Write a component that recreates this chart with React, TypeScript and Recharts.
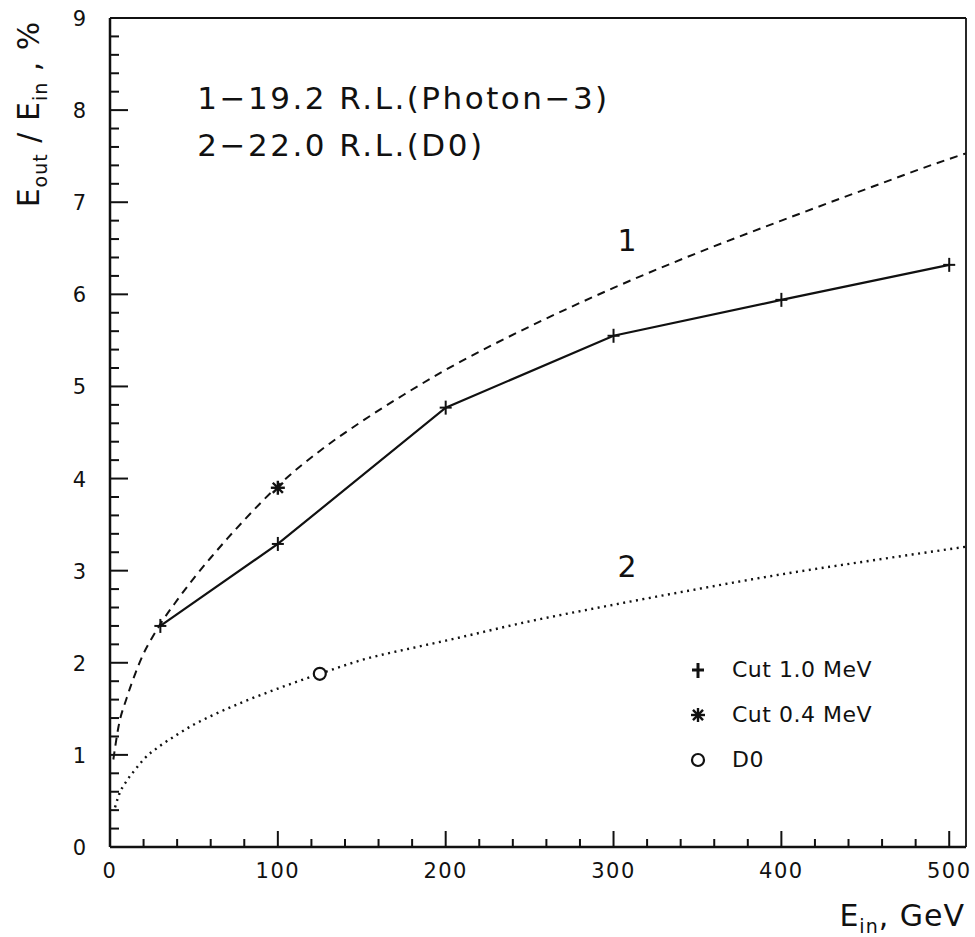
import React from 'react';
import { ComposedChart, Line, Scatter, XAxis, YAxis, ReferenceDot, ReferenceLine, Legend } from 'recharts';

// ---- data ----
const xTicks = [0, 20, 40, 60, 80, 100, 120, 140, 160, 180, 200, 220, 240, 260, 280, 300, 320, 340, 360, 380, 400, 420, 440, 460, 480, 500];
const yTicks = [0, 0.2, 0.4, 0.6, 0.8, 1, 1.2, 1.4, 1.6, 1.8, 2, 2.2, 2.4, 2.6, 2.8, 3, 3.2, 3.4, 3.6, 3.8, 4, 4.2, 4.4, 4.6, 4.8, 5, 5.2, 5.4, 5.6, 5.8, 6, 6.2, 6.4, 6.6, 6.8, 7, 7.2, 7.4, 7.6, 7.8, 8, 8.2, 8.4, 8.6, 8.8, 9];
const xMajor = [0, 100, 200, 300, 400, 500];
const yMajor = [0, 1, 2, 3, 4, 5, 6, 7, 8, 9];

// curve 1: 19.2 R.L. (Photon-3), dashed
const curve1X = [2, 5, 10, 15, 20, 25, 30, 40, 50, 60, 70, 80, 90, 100, 125, 150, 175, 200, 250, 300, 350, 400, 450, 500, 510];
const curve1Y = [0.95, 1.3, 1.62, 1.88, 2.1, 2.27, 2.42, 2.68, 2.92, 3.14, 3.35, 3.55, 3.74, 3.92, 4.3, 4.62, 4.91, 5.18, 5.65, 6.07, 6.45, 6.8, 7.14, 7.47, 7.53];
// curve 2: 22.0 R.L. (D0), dotted
const curve2X = [3, 5, 10, 15, 20, 30, 40, 50, 60, 80, 100, 125, 150, 185, 200, 250, 300, 350, 400, 450, 510];
const curve2Y = [0.43, 0.55, 0.72, 0.84, 0.95, 1.1, 1.22, 1.33, 1.42, 1.58, 1.72, 1.88, 2.03, 2.18, 2.24, 2.45, 2.63, 2.8, 2.96, 3.1, 3.26];
// measured points
const cut10X = [30, 100, 200, 300, 400, 500];
const cut10Y = [2.4, 3.29, 4.77, 5.55, 5.94, 6.32];
const cut04X = [100];
const cut04Y = [3.9];
const d0X = [125];
const d0Y = [1.88];

const legendLabels = ['Cut 1.0 MeV', 'Cut 0.4 MeV', 'D0'];
const noteLines = ['1\u221219.2 R.L.(Photon\u22123)', '2\u221222.0 R.L.(D0)'];
const curveLabels = ['1', '2'];

const zip = (xs: number[], ys: number[]) => xs.map((x, i) => ({ x, y: ys[i] }));
const curve1 = zip(curve1X, curve1Y);
const curve2 = zip(curve2X, curve2Y);
const cut10 = zip(cut10X, cut10Y);
const cut04 = zip(cut04X, cut04Y);
const d0 = zip(d0X, d0Y);

const FONT = '"DejaVu Sans", "Liberation Sans", sans-serif';
const INK = '#111';

const XTick = (props: any) => {
  const { x, y, payload } = props;
  const v = payload.value;
  const major = xMajor.includes(v);
  return (
    <g>
      <line x1={x} y1={y} x2={x} y2={y - (major ? 16 : 8)} stroke={INK} strokeWidth={2} />
      {major && (
        <text x={x} y={y + 31} textAnchor="middle" fontFamily={FONT} fontSize={21} letterSpacing={1.5} fill={INK}>
          {v}
        </text>
      )}
    </g>
  );
};

const YTick = (props: any) => {
  const { x, y, payload } = props;
  const v = payload.value;
  const major = yMajor.some((m) => Math.abs(m - v) < 1e-6);
  return (
    <g>
      <line x1={x} y1={y} x2={x + (major ? 18 : 9)} y2={y} stroke={INK} strokeWidth={2} />
      {major && (
        <text x={x - 24} y={y + 8} textAnchor="end" fontFamily={FONT} fontSize={21} fill={INK}>
          {Math.round(v)}
        </text>
      )}
    </g>
  );
};

const PlusMark = (props: any) => {
  const { cx, cy } = props;
  if (cx == null || cy == null) return <g />;
  return (
    <g>
      <line x1={cx - 6} y1={cy} x2={cx + 6} y2={cy} stroke={INK} strokeWidth={2} />
      <line x1={cx} y1={cy - 7} x2={cx} y2={cy + 7} stroke={INK} strokeWidth={2} />
    </g>
  );
};

const StarMark = (props: any) => {
  const { cx, cy } = props;
  const r = 7;
  const d = r * 0.72;
  return (
    <g stroke={INK} strokeWidth={2.4}>
      <line x1={cx - r} y1={cy} x2={cx + r} y2={cy} />
      <line x1={cx} y1={cy - r} x2={cx} y2={cy + r} />
      <line x1={cx - d} y1={cy - d} x2={cx + d} y2={cy + d} />
      <line x1={cx - d} y1={cy + d} x2={cx + d} y2={cy - d} />
    </g>
  );
};

const CircleMark = (props: any) => {
  const { cx, cy } = props;
  return <circle cx={cx} cy={cy} r={6} fill="#fff" stroke={INK} strokeWidth={2.2} />;
};

const YLabel = () => (
  <text transform="translate(39,114) rotate(-90)" textAnchor="middle" fontFamily={FONT} fontSize={30} letterSpacing={1} fill={INK}>
    E<tspan fontSize={19} dy={8}>out</tspan>
    <tspan dy={-8}> / E</tspan>
    <tspan fontSize={19} dy={8}>in</tspan>
    <tspan dy={-8}> , %</tspan>
  </text>
);

const XLabel = () => (
  <text x={965} y={926} textAnchor="end" fontFamily={FONT} fontSize={30} letterSpacing={1} fill={INK}>
    E<tspan fontSize={19} dy={7}>in</tspan>
    <tspan dy={-7}>, GeV</tspan>
  </text>
);

const textAt = (value: string, size: number, spacing: number, anchor: string) => (props: any) => {
  const vb = props.viewBox || {};
  const x = vb.x + (vb.width || 0) / 2;
  const y = vb.y + (vb.height || 0) / 2;
  return (
    <text x={x} y={y} textAnchor={anchor} fontFamily={FONT} fontSize={size} letterSpacing={spacing} fill={INK}>
      {value}
    </text>
  );
};

const LegendBox = () => {
  const icons = [
    <svg width={20} height={20} key="a"><g transform="translate(10,10)"><line x1={-6} y1={0} x2={6} y2={0} stroke={INK} strokeWidth={3} /><line x1={0} y1={-7} x2={0} y2={8} stroke={INK} strokeWidth={3} /></g></svg>,
    <svg width={20} height={20} key="b"><StarMark cx={10} cy={10} /></svg>,
    <svg width={20} height={20} key="c"><CircleMark cx={10} cy={10} /></svg>,
  ];
  return (
    <div style={{ fontFamily: FONT, fontSize: 22, color: INK, letterSpacing: 0.5 }}>
      {legendLabels.map((l, i) => (
        <div key={l} style={{ display: 'flex', alignItems: 'center', height: 45 }}>
          <div style={{ width: 20, height: 20, marginRight: 24 }}>{icons[i]}</div>
          <span>{l}</span>
        </div>
      ))}
    </div>
  );
};

export default function App() {
  return (
    <div style={{ position: 'absolute', left: 0, top: 0, width: 975, height: 937, background: '#fff' }}>
      <ComposedChart width={975} height={937} margin={{ top: 18, right: 9, bottom: 0, left: 0 }}>
        <XAxis
          type="number"
          dataKey="x"
          domain={[0, 510]}
          ticks={xTicks}
          interval={0}
          tickSize={0}
          tickMargin={0}
          tickLine={false}
          axisLine={{ stroke: INK, strokeWidth: 2.5 }}
          tick={<XTick />}
          height={90}
          allowDataOverflow
          label={{ content: <XLabel /> }}
        />
        <YAxis
          type="number"
          dataKey="y"
          domain={[0, 9]}
          ticks={yTicks}
          interval={0}
          tickSize={0}
          tickMargin={0}
          tickLine={false}
          axisLine={{ stroke: INK, strokeWidth: 2.5 }}
          tick={<YTick />}
          width={110}
          allowDataOverflow
          label={{ content: <YLabel /> }}
        />
        <ReferenceLine y={9} stroke={INK} strokeWidth={1.8} ifOverflow="visible" />
        <ReferenceLine x={510} stroke={INK} strokeWidth={1.8} ifOverflow="visible" />

        <Line data={curve1} dataKey="y" type="monotone" stroke={INK} strokeWidth={2} strokeDasharray="8 6" dot={false} isAnimationActive={false} legendType="none" />
        <Line data={curve2} dataKey="y" type="monotone" stroke={INK} strokeWidth={2.4} strokeDasharray="2 4.5" dot={false} isAnimationActive={false} legendType="none" />
        <Line data={cut10} dataKey="y" type="linear" stroke={INK} strokeWidth={2.2} dot={<PlusMark />} isAnimationActive={false} name={legendLabels[0]} />
        <Scatter data={cut04} dataKey="y" shape={<StarMark />} isAnimationActive={false} name={legendLabels[1]} />
        <Scatter data={d0} dataKey="y" shape={<CircleMark />} isAnimationActive={false} name={legendLabels[2]} />

        <ReferenceDot x={52} y={8.01} r={0} fill="none" stroke="none" ifOverflow="visible" label={{ content: textAt(noteLines[0], 31, 2.5, 'start') }} />
        <ReferenceDot x={52} y={7.5} r={0} fill="none" stroke="none" ifOverflow="visible" label={{ content: textAt(noteLines[1], 31, 2.5, 'start') }} />
        <ReferenceDot x={308} y={6.47} r={0} fill="none" stroke="none" ifOverflow="visible" label={{ content: textAt(curveLabels[0], 30, 0, 'middle') }} />
        <ReferenceDot x={308} y={2.93} r={0} fill="none" stroke="none" ifOverflow="visible" label={{ content: textAt(curveLabels[1], 30, 0, 'middle') }} />

        <Legend
          layout="vertical"
          align="center"
          verticalAlign="middle"
          content={<LegendBox />}
          wrapperStyle={{ left: 688, top: 647, width: 240, height: 140 }}
        />
      </ComposedChart>
    </div>
  );
}
